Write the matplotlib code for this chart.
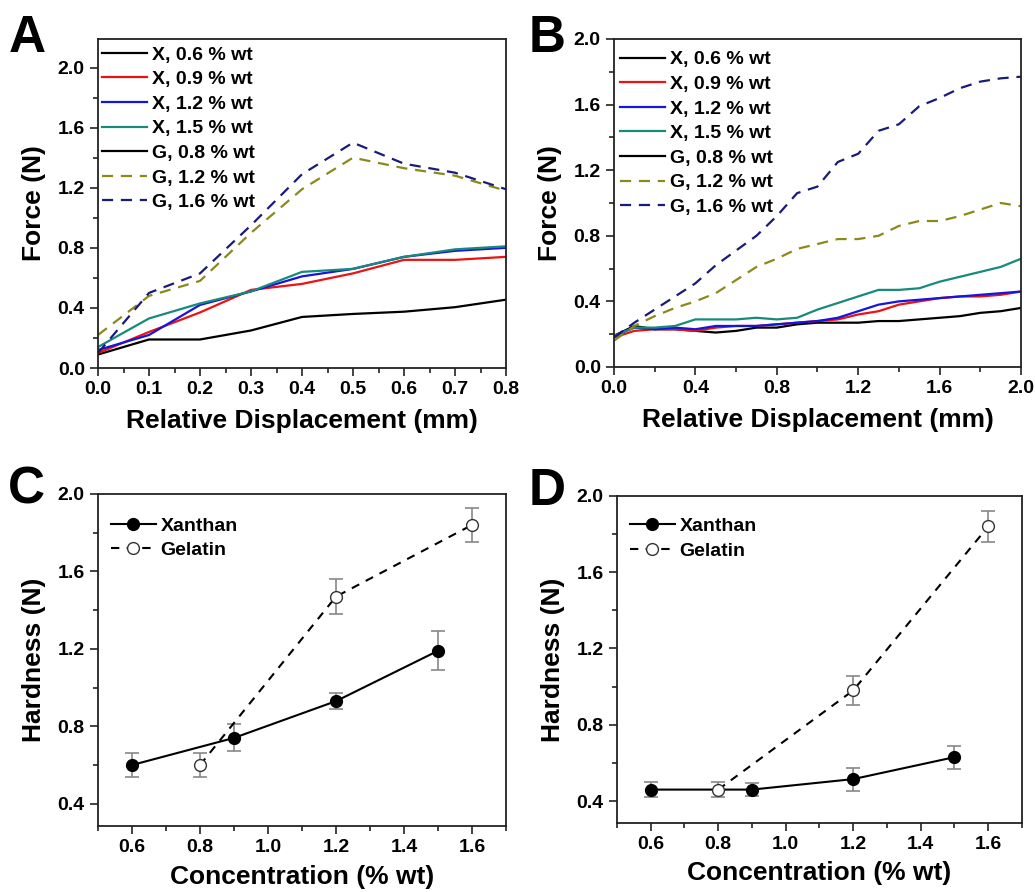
import numpy as np
import matplotlib
matplotlib.use("Agg")
import matplotlib.pyplot as plt
from matplotlib.ticker import MultipleLocator

plt.rcParams['font.family'] = ['Liberation Sans', 'DejaVu Sans']
plt.rcParams['font.weight'] = 'bold'

# ---- panel A : force vs displacement (0 - 0.8 mm)
disp_a = [0.0, 0.1, 0.2, 0.3, 0.4, 0.5, 0.6, 0.7, 0.8]
a_x06 = [0.09, 0.19, 0.19, 0.25, 0.34, 0.36, 0.375, 0.405, 0.455]
a_x09 = [0.10, 0.24, 0.37, 0.52, 0.56, 0.63, 0.72, 0.72, 0.74]
a_x12 = [0.12, 0.22, 0.42, 0.51, 0.61, 0.66, 0.74, 0.78, 0.80]
a_x15 = [0.14, 0.33, 0.43, 0.51, 0.64, 0.66, 0.74, 0.79, 0.81]
a_g08 = []
a_g12 = [0.22, 0.48, 0.58, 0.90, 1.19, 1.40, 1.33, 1.28, 1.18]
a_g16 = [0.10, 0.50, 0.63, 0.95, 1.29, 1.50, 1.36, 1.30, 1.19]

# ---- panel B : force vs displacement (0 - 2.0 mm)
disp_b = [0.0, 0.1, 0.2, 0.3, 0.4, 0.5, 0.6, 0.7, 0.8, 0.9, 1.0,
          1.1, 1.2, 1.3, 1.4, 1.5, 1.6, 1.7, 1.8, 1.9, 2.0]
b_x06 = [0.19, 0.25, 0.23, 0.23, 0.22, 0.21, 0.22, 0.24, 0.24, 0.26, 0.27,
         0.27, 0.27, 0.28, 0.28, 0.29, 0.30, 0.31, 0.33, 0.34, 0.36]
b_x09 = [0.18, 0.22, 0.23, 0.23, 0.22, 0.24, 0.25, 0.25, 0.26, 0.27, 0.28,
         0.29, 0.32, 0.34, 0.38, 0.40, 0.42, 0.43, 0.43, 0.44, 0.46]
b_x12 = [0.19, 0.24, 0.23, 0.24, 0.23, 0.25, 0.25, 0.25, 0.26, 0.27, 0.28,
         0.30, 0.34, 0.38, 0.40, 0.41, 0.42, 0.43, 0.44, 0.45, 0.46]
b_x15 = [0.19, 0.24, 0.24, 0.25, 0.29, 0.29, 0.29, 0.30, 0.29, 0.30, 0.35,
         0.39, 0.43, 0.47, 0.47, 0.48, 0.52, 0.55, 0.58, 0.61, 0.66]
b_g08 = []
b_g12 = [0.16, 0.25, 0.31, 0.36, 0.40, 0.45, 0.53, 0.61, 0.66, 0.72, 0.75,
         0.78, 0.78, 0.80, 0.86, 0.89, 0.89, 0.92, 0.96, 1.00, 0.98]
b_g16 = [0.18, 0.27, 0.35, 0.43, 0.51, 0.62, 0.71, 0.80, 0.92, 1.06, 1.10,
         1.25, 1.30, 1.44, 1.48, 1.59, 1.64, 1.70, 1.74, 1.76, 1.77]

curve_labels = ["X, 0.6 % wt", "X, 0.9 % wt", "X, 1.2 % wt", "X, 1.5 % wt",
                "G, 0.8 % wt", "G, 1.2 % wt", "G, 1.6 % wt"]

# ---- panels C/D : hardness vs concentration
conc_xan = [0.6, 0.9, 1.2, 1.5]
conc_gel = [0.8, 1.2, 1.6]
c_xan = [0.60, 0.74, 0.93, 1.19]
c_xan_err = [0.06, 0.07, 0.04, 0.10]
c_gel = [0.60, 1.47, 1.84]
c_gel_err = [0.06, 0.09, 0.09]
d_xan = [0.46, 0.46, 0.515, 0.63]
d_xan_err = [0.04, 0.035, 0.06, 0.06]
d_gel = [0.46, 0.98, 1.84]
d_gel_err = [0.04, 0.075, 0.08]

colors = ["black", "#ee1111", "#1515dd", "#178a7a", "black", "#8a8a1a", "#1a1a7a"]
styles = ["-", "-", "-", "-", "-", (0, (5, 3.5)), (0, (5, 3.5))]

fig = plt.figure(figsize=(10.35, 8.92), dpi=100)
axA = fig.add_axes([0.0947, 0.5874, 0.3942, 0.3689])
axB = fig.add_axes([0.5932, 0.5886, 0.3933, 0.3677])
axC = fig.add_axes([0.0947, 0.0740, 0.3942, 0.3722])
axD = fig.add_axes([0.5961, 0.0774, 0.3913, 0.3666])


def style_axes(ax):
    for s in ax.spines.values():
        s.set_linewidth(1.3)
        s.set_color("#222222")
    ax.tick_params(which="both", direction="out", top=False, right=False,
                   labelsize=14, width=1.2, color="#222222")
    ax.tick_params(which="major", length=6)
    ax.tick_params(which="minor", length=3.5)
    for t in ax.get_xticklabels() + ax.get_yticklabels():
        t.set_fontweight("bold")


legend_anchor = {"A": (0.01, 0.979), "B": (0.0147, 0.964)}
for name, ax, xs, series in [("A", axA, disp_a, [a_x06, a_x09, a_x12, a_x15, a_g08, a_g12, a_g16]),
                             ("B", axB, disp_b, [b_x06, b_x09, b_x12, b_x15, b_g08, b_g12, b_g16])]:
    for ys, c, ls, lab in zip(series, colors, styles, curve_labels):
        ax.plot(xs[:len(ys)], ys, color=c, ls=ls, lw=1.6, label=lab)
    ax.set_ylabel("Force (N)", fontsize=19, fontweight="bold", labelpad=8)
    ax.set_xlabel("Relative Displacement (mm)", fontsize=19, fontweight="bold", labelpad=8)
    ax.legend(loc="upper left", bbox_to_anchor=legend_anchor[name], frameon=False,
              handlelength=2.3, handletextpad=0.26, labelspacing=0.36,
              borderaxespad=0, borderpad=0, prop={"weight": "bold", "size": 14})

axA.set_xlim(0, 0.8)
axA.set_ylim(0, 2.19)
axA.xaxis.set_major_locator(MultipleLocator(0.1))
axA.xaxis.set_minor_locator(MultipleLocator(0.05))
axA.yaxis.set_major_locator(MultipleLocator(0.4))
axA.yaxis.set_minor_locator(MultipleLocator(0.2))

axB.set_xlim(0, 2.0)
axB.set_ylim(0, 2.0)
axB.xaxis.set_major_locator(MultipleLocator(0.4))
axB.xaxis.set_minor_locator(MultipleLocator(0.2))
axB.yaxis.set_major_locator(MultipleLocator(0.4))
axB.yaxis.set_minor_locator(MultipleLocator(0.2))

for ax, xv, xe, gv, ge, anc in [(axC, c_xan, c_xan_err, c_gel, c_gel_err, (0.032, 0.931)),
                                (axD, d_xan, d_xan_err, d_gel, d_gel_err, (0.032, 0.934))]:
    ax.errorbar(conc_xan, xv, yerr=xe, fmt="none", ecolor="#888888", elinewidth=1.2,
                capsize=5, capthick=1.2, zorder=1)
    ax.errorbar(conc_gel, gv, yerr=ge, fmt="none", ecolor="#888888", elinewidth=1.2,
                capsize=5, capthick=1.2, zorder=1)
    ax.plot(conc_xan, xv, "-o", color="black", lw=1.5, ms=8.5, mfc="black",
            mec="black", label="Xanthan", zorder=3)
    ax.plot(conc_gel, gv, "--o", color="black", lw=1.5, ms=8.5, mfc="white",
            mec="#333333", mew=1.0, dashes=(4, 3.5), label="Gelatin", zorder=3)
    ax.set_xlim(0.5, 1.7)
    ax.set_ylim(0.285, 2.0)
    ax.xaxis.set_major_locator(MultipleLocator(0.2))
    ax.xaxis.set_minor_locator(MultipleLocator(0.1))
    ax.yaxis.set_major_locator(MultipleLocator(0.4))
    ax.yaxis.set_minor_locator(MultipleLocator(0.2))
    ax.set_ylabel("Hardness (N)", fontsize=19, fontweight="bold", labelpad=8)
    ax.set_xlabel("Concentration (% wt)", fontsize=19, fontweight="bold", labelpad=6)
    ax.legend(loc="upper left", bbox_to_anchor=anc, frameon=False,
              handlelength=2.3, handletextpad=0.25, labelspacing=0.36,
              borderaxespad=0, borderpad=0, prop={"weight": "bold", "size": 14})

for ax in [axA, axB, axC, axD]:
    style_axes(ax)

for lab, (x, y) in zip("ABCD", [(0.008, 0.929), (0.511, 0.929), (0.008, 0.423), (0.511, 0.422)]):
    fig.text(x, y, lab, fontsize=37, fontweight="bold", va="bottom", ha="left")

fig.savefig("out.png", dpi=100)
